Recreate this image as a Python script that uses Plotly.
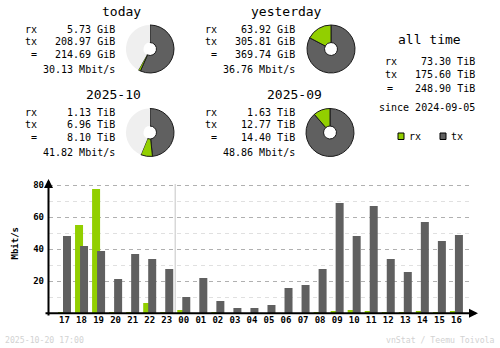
import plotly.graph_objects as go

# ---- hourly traffic (Mbit/s), last 24 hours ----
hours = ["17", "18", "19", "20", "21", "22", "23", "00", "01", "02", "03", "04",
         "05", "06", "07", "08", "09", "10", "11", "12", "13", "14", "15", "16"]
rx_rate = [0.6, 55.2, 77.7, 0.6, 0.6, 6.4, 0.6, 2.1, 0.0, 0.6, 0.0, 0.0,
           0.0, 0.0, 0.0, 0.8, 1.5, 2.1, 1.5, 0.8, 0.8, 1.5, 0.8, 1.5]
tx_rate = [48.3, 42.1, 39.0, 21.4, 37.1, 34.0, 27.7, 10.2, 22.1, 7.7, 3.3, 3.3,
           5.2, 15.8, 17.7, 27.7, 68.9, 48.3, 67.0, 34.0, 25.8, 57.0, 45.2, 48.9]
y_ticks = [20, 40, 60, 80]

# ---- summary panels ----
panel_titles = ["today", "yesterday", "2025-10", "2025-09"]
panel_rx = [5.73, 63.92, 1.13, 1.63]
panel_tx = [208.97, 305.81, 6.96, 12.77]
panel_total = [214.69, 369.74, 8.10, 14.40]
panel_unit = ["GiB", "GiB", "TiB", "TiB"]
panel_rate = [30.13, 36.76, 41.82, 48.86]

alltime_rx, alltime_tx, alltime_total = 73.30, 175.60, 248.90
since_date = "2024-09-05"
stamp = "2025-10-20 17:00"

W, H = 500, 348
RX_COL = "#92CF00"
TX_COL = "#606060"
FREE_COL = "#EFEFEF"
MONO = "DejaVu Sans Mono"
BODY = 10      # ~6 px per character
TITLE = 13     # ~8 px per character


def px(x):
    return x / W


def py(y):
    return 1 - y / H


fig = go.Figure()


def ann(s, x, y, anchor, size=BODY, color="#000", weight="normal", angle=0):
    fig.add_annotation(text=s, x=px(x), y=py(y), xref="paper", yref="paper",
                       xanchor=anchor, yanchor="middle", showarrow=False,
                       borderpad=0, borderwidth=0, textangle=angle,
                       font=dict(family=MONO, size=size, color=color, weight=weight))


# ---- donuts: current period compared with the previous one ----
# (centre x, centre y, title right edge, label x, value right edge, row offset)
panels = [
    (150, 49, 141, 25, 115, 0),
    (331, 49, 321.5, 205, 295, 0),
    (150, 132.5, 141, 25, 115, 83),
    (330, 132.5, 321.5, 205, 295, 83),
]
pairs = [(0, 1), (1, 1), (2, 3), (3, 3)]
R = 24
for i, (cx, cy, tr, lx, vr, dy) in enumerate(panels):
    cur, ref = pairs[i]
    ref_total = max(panel_total[cur], panel_total[ref])
    rest = max(ref_total - panel_total[cur], 0)
    fig.add_trace(go.Pie(
        values=[panel_tx[i], panel_rx[i], rest],
        marker=dict(colors=[TX_COL, RX_COL, FREE_COL],
                    line=dict(color=["#1a1a1a", "#1a1a1a", FREE_COL], width=[1, 1, 0])),
        hole=0.27, sort=False, direction="clockwise", rotation=0,
        textinfo="none", hoverinfo="skip", showlegend=False,
        domain=dict(x=[px(cx - R), px(cx + R)], y=[py(cy + R), py(cy - R)]),
    ))

    u = panel_unit[i]
    ann(panel_titles[i], tr, 11.5 + dy, "right", TITLE)
    ann("rx", lx, 29.3 + dy, "left")
    ann("tx", lx, 41 + dy, "left")
    ann("=", lx + 9, 54.5 + dy, "center")
    ann(f"{panel_rx[i]:.2f} {u}", vr, 29.3 + dy, "right")
    ann(f"{panel_tx[i]:.2f} {u}", vr, 41 + dy, "right")
    ann(f"{panel_total[i]:.2f} {u}", vr, 54.5 + dy, "right")
    ann(f"{panel_rate[i]:.2f} Mbit/s", vr, 69 + dy, "right")

# ---- all time block ----
ann("all time", 429, 39.5, "center", TITLE)
ann("rx", 385, 62, "left")
ann("tx", 385, 74, "left")
ann("=", 390, 88, "center")
ann(f"{alltime_rx:.2f} TiB", 474.5, 62, "right")
ann(f"{alltime_tx:.2f} TiB", 474.5, 74, "right")
ann(f"{alltime_total:.2f} TiB", 474.5, 88, "right")
ann(f"since {since_date}", 474.5, 108, "right")

# legend swatches
for x0, col, lab in [(398, RX_COL, "rx"), (440, TX_COL, "tx")]:
    fig.add_shape(type="rect", xref="paper", yref="paper",
                  x0=px(x0), x1=px(x0 + 6), y0=py(139.5), y1=py(133),
                  fillcolor=col, line=dict(color="#000", width=1))
    ann(lab, x0 + 11, 136, "left")

# ---- hourly bar chart ----
SLOT = 17.04          # pixels per hour
BAR = 8 / SLOT        # bar width in hour units
fig.add_trace(go.Bar(x=hours, y=rx_rate, marker=dict(color=RX_COL, line=dict(width=0)),
                     width=BAR, offset=-6.5 / SLOT, showlegend=False, hoverinfo="skip"))
fig.add_trace(go.Bar(x=hours, y=tx_rate, marker=dict(color=TX_COL, line=dict(width=0)),
                     width=BAR, offset=-1.5 / SLOT, showlegend=False, hoverinfo="skip"))

X0, X1 = 49, 473      # plot area left/right (px)
YB, YT = 313.3, 180   # plot area bottom/top (px)
PPU = 1.6             # pixels per Mbit/s
r0 = -(64.5 - X0) / SLOT
fig.update_layout(
    barmode="overlay",
    xaxis=dict(domain=[px(X0), px(X1)], range=[r0, r0 + (X1 - X0) / SLOT],
               type="category", showgrid=False, zeroline=False, showline=False,
               ticks="", tickfont=dict(family=MONO, size=9, color="#000", weight="bold"),
               ticklabelstandoff=0, fixedrange=True),
    yaxis=dict(domain=[py(YB), py(YT)], range=[0, (YB - YT) / PPU],
               tickvals=y_ticks, ticks="", showline=False, zeroline=False,
               showgrid=True, gridcolor="#B0B0B0", gridwidth=1, griddash="4px,4px",
               minor=dict(dtick=10, tick0=0, showgrid=True, gridcolor="#E0E0E0",
                          gridwidth=1, griddash="4px,4px"),
               tickfont=dict(family=MONO, size=9, color="#000", weight="bold"),
               ticklabelstandoff=4, fixedrange=True),
)

# day boundary marker between 23 and 00
fig.add_shape(type="line", xref="x", yref="paper",
              x0=hours.index("00") - 0.5, x1=hours.index("00") - 0.5,
              y0=py(YB), y1=py(184), line=dict(color="#D8D8D8", width=1.5), layer="below")

# axes with arrow heads
fig.add_annotation(x=px(478), y=py(YB), xref="paper", yref="paper", ax=-434, ay=0,
                   axref="pixel", ayref="pixel", text="", showarrow=True,
                   arrowhead=2, arrowsize=0.9, arrowwidth=2, arrowcolor="#000")
fig.add_annotation(x=px(48.5), y=py(179), xref="paper", yref="paper", ax=0, ay=138,
                   axref="pixel", ayref="pixel", text="", showarrow=True,
                   arrowhead=2, arrowsize=0.9, arrowwidth=2, arrowcolor="#000")

ann("Mbit/s", 14.5, 243, "center", 9, weight="bold", angle=-90)

# footer
ann(stamp, 5, 340, "left", 8.2, color="#D2D2D2")
ann("vnStat / Teemu Toivola", 495, 340, "right", 8.2, color="#D2D2D2")

fig.update_layout(width=W, height=H, margin=dict(l=0, r=0, t=0, b=0),
                  paper_bgcolor="#FFFFFF", plot_bgcolor="#FFFFFF")

fig.write_html("out.html")
